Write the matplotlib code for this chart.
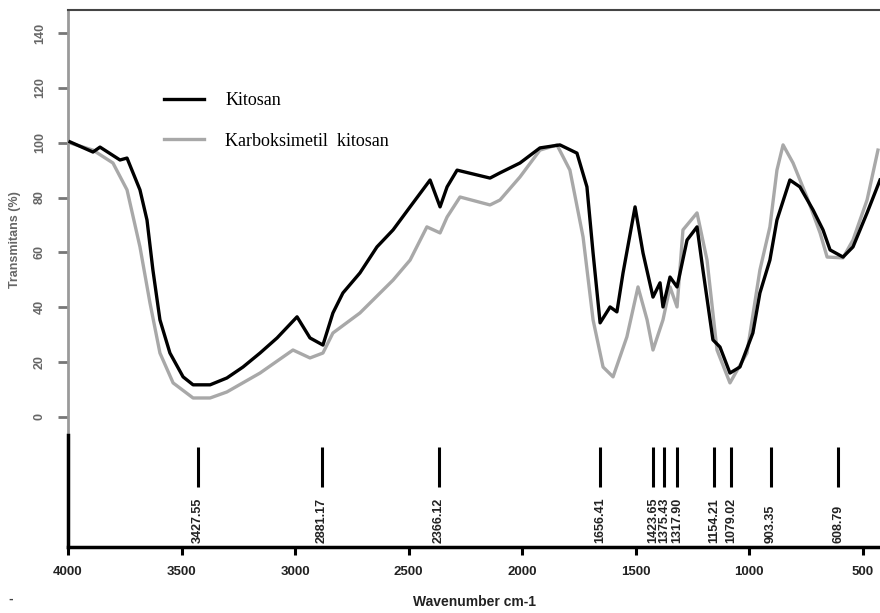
import numpy as np
import matplotlib
matplotlib.use('Agg')
import matplotlib.pyplot as plt

# FTIR spectra: wavenumber (cm-1), transmittance (%)
wn_kitosan = [3991, 3890, 3859, 3771, 3740, 3683, 3652, 3626, 3595, 3551, 3493, 3449,
              3374, 3300, 3229, 3154, 3079, 2991, 2934, 2877, 2833, 2789, 2714, 2639,
              2568, 2493, 2405, 2361, 2330, 2286, 2141, 2097, 2009, 1921, 1833, 1758,
              1714, 1687, 1656, 1612, 1582, 1555, 1502, 1467, 1423, 1392, 1379, 1348,
              1317, 1273, 1229, 1203, 1159, 1128, 1084, 1040, 983, 952, 908, 877,
              820, 776, 718, 674, 643, 586, 542, 480, 423]
t_kitosan = [100.3, 96.6, 98.4, 93.7, 94.4, 82.8, 71.8, 53.6, 35.4, 23.3, 14.6, 11.7,
             11.7, 14.2, 18.2, 23.3, 28.8, 36.5, 28.8, 26.2, 37.9, 45.2, 52.5, 62.0,
             68.2, 76.6, 86.4, 76.6, 83.9, 90.0, 87.1, 89.0, 92.6, 98.1, 99.2, 96.2,
             83.9, 59.8, 34.3, 40.1, 38.3, 52.5, 76.6, 59.8, 43.7, 48.9, 40.1, 51.0,
             47.4, 64.5, 69.3, 53.6, 28.1, 25.5, 16.0, 18.2, 30.6, 45.2, 57.2, 71.8,
             86.4, 83.9, 75.5, 68.2, 60.9, 58.3, 62.0, 74.4, 86.4]

wn_cmc = [3991, 3890, 3802, 3740, 3683, 3639, 3595, 3537, 3449, 3374, 3300, 3154,
          3009, 2934, 2877, 2833, 2714, 2568, 2493, 2419, 2361, 2330, 2273, 2141,
          2097, 2009, 1921, 1846, 1789, 1731, 1687, 1643, 1599, 1538, 1489, 1449,
          1423, 1379, 1348, 1317, 1291, 1229, 1185, 1141, 1084, 1009, 952, 908,
          877, 850, 806, 745, 687, 656, 586, 542, 480, 432]
t_cmc = [99.9, 97.3, 92.6, 82.8, 62.0, 41.6, 23.3, 12.4, 6.9, 6.9, 9.1, 16.0,
         24.4, 21.5, 23.3, 30.6, 37.9, 49.9, 57.2, 69.3, 67.1, 72.9, 80.2, 77.3,
         79.1, 87.5, 97.3, 99.2, 90.0, 65.6, 35.4, 18.2, 14.6, 29.2, 47.4, 35.4,
         24.4, 35.4, 47.4, 40.1, 68.2, 74.4, 57.2, 24.4, 12.4, 23.3, 53.6, 69.3,
         90.0, 99.2, 92.6, 80.2, 67.1, 58.3, 58.0, 64.5, 79.1, 97.3]

peaks = [3427, 2881, 2366, 1656, 1423, 1375, 1317, 1154, 1079, 903, 608]
peak_labels = ['3427.55', '2881.17', '2366.12', '1656.41', '1423.65', '1375.43',
               '1317.90', '1154.21', '1079.02', '903.35', '608.79']

yticks = [0, 20, 40, 60, 80, 100, 120, 140]
xticks = [4000, 3500, 3000, 2500, 2000, 1500, 1000, 500]

W, H = 880, 613
fig = plt.figure(figsize=(W/100, H/100), dpi=100)

sans = 'Liberation Sans'
tick_gray = '#666666'

# upper panel: spectra
a = fig.add_axes([68/W, 1-435/H, 1-68/W, (435-10)/H])
a.plot(wn_cmc, t_cmc, color='#a8a8a8', lw=2.4, label='Karboksimetil  kitosan', zorder=2)
a.plot(wn_kitosan, t_kitosan, color='black', lw=2.4, label='Kitosan', zorder=3)
a.set_xlim(4000, 423)
a.set_ylim(-6.6, 148.4)
a.set_xticks([])
a.set_yticks(yticks)
a.set_yticklabels([str(v) for v in yticks], rotation=90, va='center',
                  fontsize=9, fontweight='bold', family=sans, color=tick_gray)
a.tick_params(axis='y', direction='out', length=7, width=2, color='#777777', pad=9)
for s in ['right', 'bottom']:
    a.spines[s].set_visible(False)
a.spines['left'].set_color('#9a9a9a')
a.spines['left'].set_linewidth(2)
a.spines['top'].set_color('#444444')
a.spines['top'].set_linewidth(1.5)
a.set_ylabel('Transmitans (%)', fontsize=9, fontweight='bold', family=sans,
             color=tick_gray)
a.yaxis.set_label_coords(-0.058, 0.46)

h, l = a.get_legend_handles_labels()
a.legend(h[::-1], l[::-1], loc='upper left', bbox_to_anchor=(0.098, 0.845),
         frameon=False, handlelength=2.2, handletextpad=1.2, labelspacing=1.3,
         prop={'family': 'Liberation Serif', 'size': 13})

# lower panel: peak positions
b = fig.add_axes([68/W, 1-547/H, 1-68/W, (547-435)/H])
b.set_xlim(4000, 423)
b.set_ylim(0, 1)
b.vlines(peaks, 0.54, 0.89, color='black', lw=2.2)
for p, s in zip(peaks, peak_labels):
    b.text(p, 0.035, s, rotation=90, ha='center', va='bottom', fontsize=9,
           fontweight='bold', family=sans, color='#222222')
b.set_yticks([])
b.set_xticks(xticks)
b.set_xticklabels([str(v) for v in xticks], fontsize=9.5, fontweight='bold',
                  family=sans, color='#222222')
b.tick_params(axis='x', direction='out', length=6, width=2.2, pad=8)
for s in ['right', 'top']:
    b.spines[s].set_visible(False)
for s in ['left', 'bottom']:
    b.spines[s].set_linewidth(2.5)
b.set_xlabel('Wavenumber cm-1', fontsize=10, fontweight='bold', family=sans,
             color='#222222', labelpad=12)

fig.text(8/W, 1-603/H, '-', fontsize=8, fontweight='bold', color='#444444')

fig.savefig('out.png', dpi=100)
